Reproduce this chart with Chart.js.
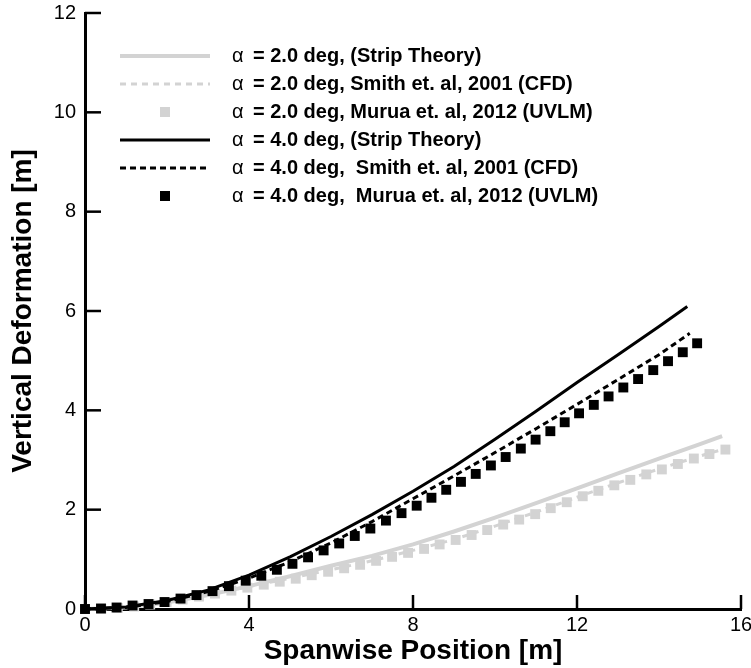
<!DOCTYPE html>
<html>
<head>
<meta charset="utf-8">
<script src="https://cdn.jsdelivr.net/npm/chart.js@4.4.0/dist/chart.umd.min.js"></script>
<style>
html, body { margin: 0; padding: 0; background: #fff; }
</style>
</head>
<body>
<canvas id="deformChart" width="751" height="668"></canvas>
<script>
// alpha = 2.0 deg
var stripX2 = [0, 1, 2, 3, 4, 5, 6, 7, 8, 9, 10, 11, 12, 13, 14, 15, 15.54];
var stripY2 = [0, 0.03, 0.13, 0.28, 0.46, 0.66, 0.87, 1.07, 1.30, 1.56, 1.84, 2.13, 2.43, 2.73, 3.03, 3.32, 3.48];
var cfdX2 = [0, 1, 2, 3, 4, 5, 6, 7, 8, 9, 10, 11, 12, 13, 14, 15, 15.5];
var cfdY2 = [0, 0.03, 0.15, 0.29, 0.45, 0.62, 0.79, 0.97, 1.18, 1.40, 1.67, 1.95, 2.25, 2.54, 2.82, 3.08, 3.20];
var uvlmX2 = [0, 0.40, 0.80, 1.20, 1.59, 1.99, 2.38, 2.78, 3.17, 3.57, 3.96, 4.36, 4.75, 5.14, 5.53, 5.93, 6.32, 6.71, 7.10, 7.49,
              7.88, 8.27, 8.65, 9.04, 9.43, 9.81, 10.20, 10.59, 10.98, 11.36, 11.75, 12.14, 12.52, 12.91, 13.30, 13.69, 14.07, 14.46, 14.85, 15.23, 15.62];
var uvlmY2 = [0, 0.005, 0.02, 0.05, 0.09, 0.14, 0.19, 0.25, 0.31, 0.37, 0.43, 0.49, 0.55, 0.61, 0.68, 0.75, 0.82, 0.89, 0.97, 1.05,
              1.13, 1.21, 1.30, 1.39, 1.49, 1.59, 1.70, 1.80, 1.91, 2.03, 2.15, 2.27, 2.38, 2.49, 2.60, 2.71, 2.81, 2.92, 3.03, 3.12, 3.21];

// alpha = 4.0 deg
var stripX4 = [0, 1, 2, 3, 4, 5, 6, 7, 8, 9, 10, 11, 12, 13, 14, 14.69];
var stripY4 = [0, 0.04, 0.17, 0.38, 0.68, 1.05, 1.46, 1.90, 2.37, 2.87, 3.42, 3.98, 4.56, 5.12, 5.69, 6.09];
var cfdX4 = [0, 1, 2, 3, 4, 5, 6, 7, 8, 9, 10, 11, 12, 13, 14, 14.75];
var cfdY4 = [0, 0.03, 0.15, 0.35, 0.62, 0.95, 1.33, 1.76, 2.22, 2.68, 3.15, 3.63, 4.12, 4.62, 5.12, 5.55];
var uvlmX4 = [0, 0.39, 0.77, 1.16, 1.55, 1.94, 2.33, 2.72, 3.11, 3.51, 3.92, 4.30, 4.68, 5.06, 5.44, 5.82, 6.20, 6.58, 6.96, 7.34,
              7.72, 8.09, 8.45, 8.81, 9.17, 9.53, 9.90, 10.26, 10.63, 10.99, 11.35, 11.70, 12.05, 12.41, 12.77, 13.13, 13.49, 13.86, 14.22, 14.58, 14.93];
var uvlmY4 = [0, 0.01, 0.03, 0.07, 0.10, 0.14, 0.21, 0.28, 0.36, 0.46, 0.57, 0.67, 0.79, 0.91, 1.04, 1.18, 1.32, 1.47, 1.62, 1.78,
              1.93, 2.08, 2.24, 2.40, 2.56, 2.72, 2.89, 3.06, 3.23, 3.41, 3.58, 3.76, 3.94, 4.11, 4.28, 4.46, 4.63, 4.81, 4.99, 5.17, 5.35];

var legendLabels = [
    'α = 2.0 deg, (Strip Theory)',
    'α = 2.0 deg, Smith et. al, 2001 (CFD)',
    'α = 2.0 deg, Murua et. al, 2012 (UVLM)',
    'α = 4.0 deg, (Strip Theory)',
    'α = 4.0 deg,  Smith et. al, 2001 (CFD)',
    'α = 4.0 deg,  Murua et. al, 2012 (UVLM)'
];

var GREY = '#d3d3d3';
var FONT = '"Liberation Sans", Arial, Helvetica, sans-serif';

function pts(xs, ys) {
    return xs.map(function (x, i) { return { x: x, y: ys[i] }; });
}

function lineSet(label, xs, ys, color, width, dash, order) {
    return {
        label: label, data: pts(xs, ys), showLine: true, borderColor: color,
        borderWidth: width, borderDash: dash, pointRadius: 0, fill: false,
        order: order, clip: false
    };
}

function squareSet(label, xs, ys, color, order) {
    return {
        label: label, data: pts(xs, ys), showLine: false, pointStyle: 'rect',
        pointRadius: 7, backgroundColor: color, borderColor: color, borderWidth: 0,
        order: order, clip: false
    };
}

// draws the tick marks inside the plot, like the original
var inwardTicks = {
    id: 'inwardTicks',
    afterDraw: function (chart) {
        var ctx = chart.ctx, area = chart.chartArea;
        var xs = chart.scales.x, ys = chart.scales.y;
        ctx.save();
        ctx.strokeStyle = '#000';
        ctx.lineWidth = 2.5;
        xs.ticks.forEach(function (t) {
            var px = xs.getPixelForValue(t.value);
            ctx.beginPath(); ctx.moveTo(px, area.bottom); ctx.lineTo(px, area.bottom - 14); ctx.stroke();
        });
        ys.ticks.forEach(function (t) {
            var py = ys.getPixelForValue(t.value);
            ctx.beginPath(); ctx.moveTo(area.left, py); ctx.lineTo(area.left + 16, py); ctx.stroke();
        });
        ctx.restore();
    }
};

// legend drawn inside the plot area
var insideLegend = {
    id: 'insideLegend',
    afterDraw: function (chart) {
        var ctx = chart.ctx;
        var rows = [0, 1, 2, 3, 4, 5];
        var dsIndex = [5, 4, 3, 2, 1, 0];
        ctx.save();
        rows.forEach(function (r) {
            var ds = chart.data.datasets[dsIndex[r]];
            var y = 56 + r * 28;
            if (ds.showLine) {
                ctx.strokeStyle = ds.borderColor;
                ctx.lineWidth = ds.borderWidth;
                ctx.setLineDash(ds.borderDash || []);
                ctx.beginPath(); ctx.moveTo(120, y); ctx.lineTo(210, y); ctx.stroke();
                ctx.setLineDash([]);
            } else {
                ctx.fillStyle = ds.backgroundColor;
                ctx.fillRect(160, y - 5, 10, 10);
            }
            var text = legendLabels[r];
            ctx.fillStyle = '#000';
            ctx.textBaseline = 'middle';
            ctx.textAlign = 'left';
            ctx.font = '20px ' + FONT;
            ctx.fillText(text.slice(0, 1), 232, y);
            ctx.font = 'bold 20px ' + FONT;
            ctx.fillText(text.slice(2), 253, y);
        });
        ctx.restore();
    }
};

var ctxDeform = document.getElementById('deformChart').getContext('2d');
var deformChart = new Chart(ctxDeform, {
    type: 'scatter',
    data: {
        datasets: [
            squareSet(legendLabels[5], uvlmX4, uvlmY4, '#000', 0),
            lineSet(legendLabels[4], cfdX4, cfdY4, '#000', 3, [6, 4], 1),
            lineSet(legendLabels[3], stripX4, stripY4, '#000', 3, [], 2),
            squareSet(legendLabels[2], uvlmX2, uvlmY2, GREY, 3),
            lineSet(legendLabels[1], cfdX2, cfdY2, GREY, 3, [6, 5], 4),
            lineSet(legendLabels[0], stripX2, stripY2, GREY, 4, [], 5)
        ]
    },
    options: {
        responsive: false,
        animation: false,
        devicePixelRatio: 1,
        layout: { padding: { left: 0, right: 10, top: 6, bottom: 0 } },
        plugins: { legend: { display: false }, tooltip: { enabled: false } },
        scales: {
            x: {
                type: 'linear', min: 0, max: 16,
                grid: { display: false },
                border: { display: true, color: '#000', width: 3 },
                ticks: { stepSize: 4, padding: -4, color: '#000', font: { family: FONT, size: 20 }, maxRotation: 0 },
                title: { display: true, text: 'Spanwise Position [m]', color: '#000',
                         font: { family: FONT, size: 28, weight: 'bold' }, padding: { top: 0, bottom: 0 } },
                afterFit: function (s) { s.height = 59; }
            },
            y: {
                type: 'linear', min: 0, max: 12,
                grid: { display: false },
                border: { display: true, color: '#000', width: 3 },
                ticks: { stepSize: 2, padding: 1, color: '#000', font: { family: FONT, size: 20 } },
                title: { display: true, text: 'Vertical Deformation [m]', color: '#000',
                         font: { family: FONT, size: 28, weight: 'bold' }, padding: { top: 6, bottom: 0 } },
                afterFit: function (s) { s.width = 85; }
            }
        }
    },
    plugins: [inwardTicks, insideLegend]
});
</script>
</body>
</html>
